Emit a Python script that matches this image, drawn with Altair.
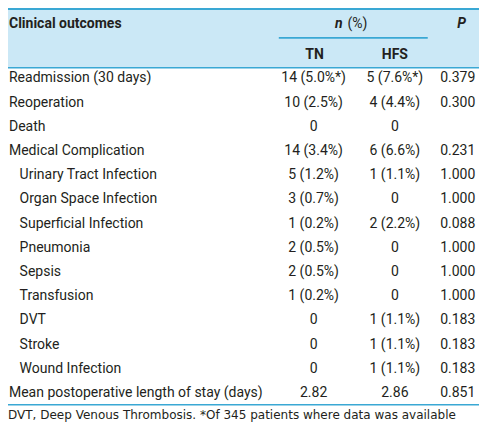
import altair as alt
import pandas as pd

outcomes = ["Readmission (30 days)", "Reoperation", "Death", "Medical Complication",
            "Urinary Tract Infection", "Organ Space Infection", "Superficial Infection",
            "Pneumonia", "Sepsis", "Transfusion", "DVT", "Stroke", "Wound Infection",
            "Mean postoperative length of stay (days)"]
indent = [0, 0, 0, 0, 1, 1, 1, 1, 1, 1, 1, 1, 1, 0]
tn = ["14 (5.0%*)", "10 (2.5%)", "0", "14 (3.4%)", "5 (1.2%)", "3 (0.7%)", "1 (0.2%)",
      "2 (0.5%)", "2 (0.5%)", "1 (0.2%)", "0", "0", "0", "2.82"]
hfs = ["5 (7.6%*)", "4 (4.4%)", "0", "6 (6.6%)", "1 (1.1%)", "0", "2 (2.2%)",
       "0", "0", "0", "1 (1.1%)", "1 (1.1%)", "1 (1.1%)", "2.86"]
pval = ["0.379", "0.300", "", "0.231", "1.000", "1.000", "0.088", "1.000", "1.000",
        "1.000", "0.183", "0.183", "0.183", "0.851"]
footnote = "DVT, Deep Venous Thrombosis. *Of 345 patients where data was available"

W, H = 471, 415
sx, sy = W / 487, H / 431
FONT = "Roboto"
FS = 14
TXT = "#231f20"
LINE = "#3aa8d4"
BG = "#cbe8f6"

df = pd.DataFrame({"row": list(range(len(outcomes))), "outcome": outcomes,
                   "indent": indent, "TN": tn, "HFS": hfs, "P": pval})

yscale = alt.Scale(domain=[0, len(outcomes) - 1], range=[73 * sy, 400 * sy])
base = alt.Chart(df)


def col_layer(field, x, align="center", flt=None):
    c = base
    if flt is not None:
        c = c.transform_filter(flt)
    return c.mark_text(align=align, baseline="middle", font=FONT, fontSize=FS,
                       color=TXT).encode(
        x=alt.value(x * sx),
        y=alt.Y("row:Q", scale=yscale, axis=None),
        text=f"{field}:N")


body = [
    col_layer("outcome", 1, "left", alt.datum.indent == 0),
    col_layer("outcome", 12, "left", alt.datum.indent == 1),
    col_layer("TN", 316),
    col_layer("HFS", 400),
    col_layer("P", 465),
]

one = alt.Chart(pd.DataFrame({"a": [0]}))

bg = one.mark_rect(color=BG).encode(
    x=alt.value(0), x2=alt.value(W), y=alt.value(0), y2=alt.value(62 * sy))


def rule(x1, x2, y, w=1.6):
    return one.mark_rule(color=LINE, strokeWidth=w).encode(
        x=alt.value(x1 * sx), x2=alt.value(x2 * sx), y=alt.value(y * sy))


rules = [rule(0, 487, 1, 2), rule(280, 434, 31), rule(0, 487, 62), rule(0, 487, 412)]


def htext(t, x, y, align="left", weight="bold", style="normal"):
    return one.mark_text(text=t, align=align, baseline="middle", font=FONT, fontSize=FS,
                         fontWeight=weight, fontStyle=style, color=TXT).encode(
        x=alt.value(x * sx), y=alt.value(y * sy))


headers = [
    htext("Clinical outcomes", 1, 17),
    htext("n", 346, 17, align="right", style="italic"),
    htext("(%)", 351, 17, weight="normal"),
    htext("P", 469, 17, align="center", style="italic"),
    htext("TN", 317, 49, align="center"),
    htext("HFS", 400, 49, align="center"),
]

foot = one.mark_text(text=footnote, align="left", baseline="middle", font="DejaVu Sans",
                     fontSize=12, color=TXT).encode(x=alt.value(0), y=alt.value(423 * sy))

chart = alt.layer(bg, *rules, *headers, *body, foot).properties(
    width=W, height=H, padding=0, autosize=alt.AutoSizeParams(type="none")
).configure_view(stroke=None)

chart.save("out.html", embed_options={"renderer": "svg", "actions": False})
